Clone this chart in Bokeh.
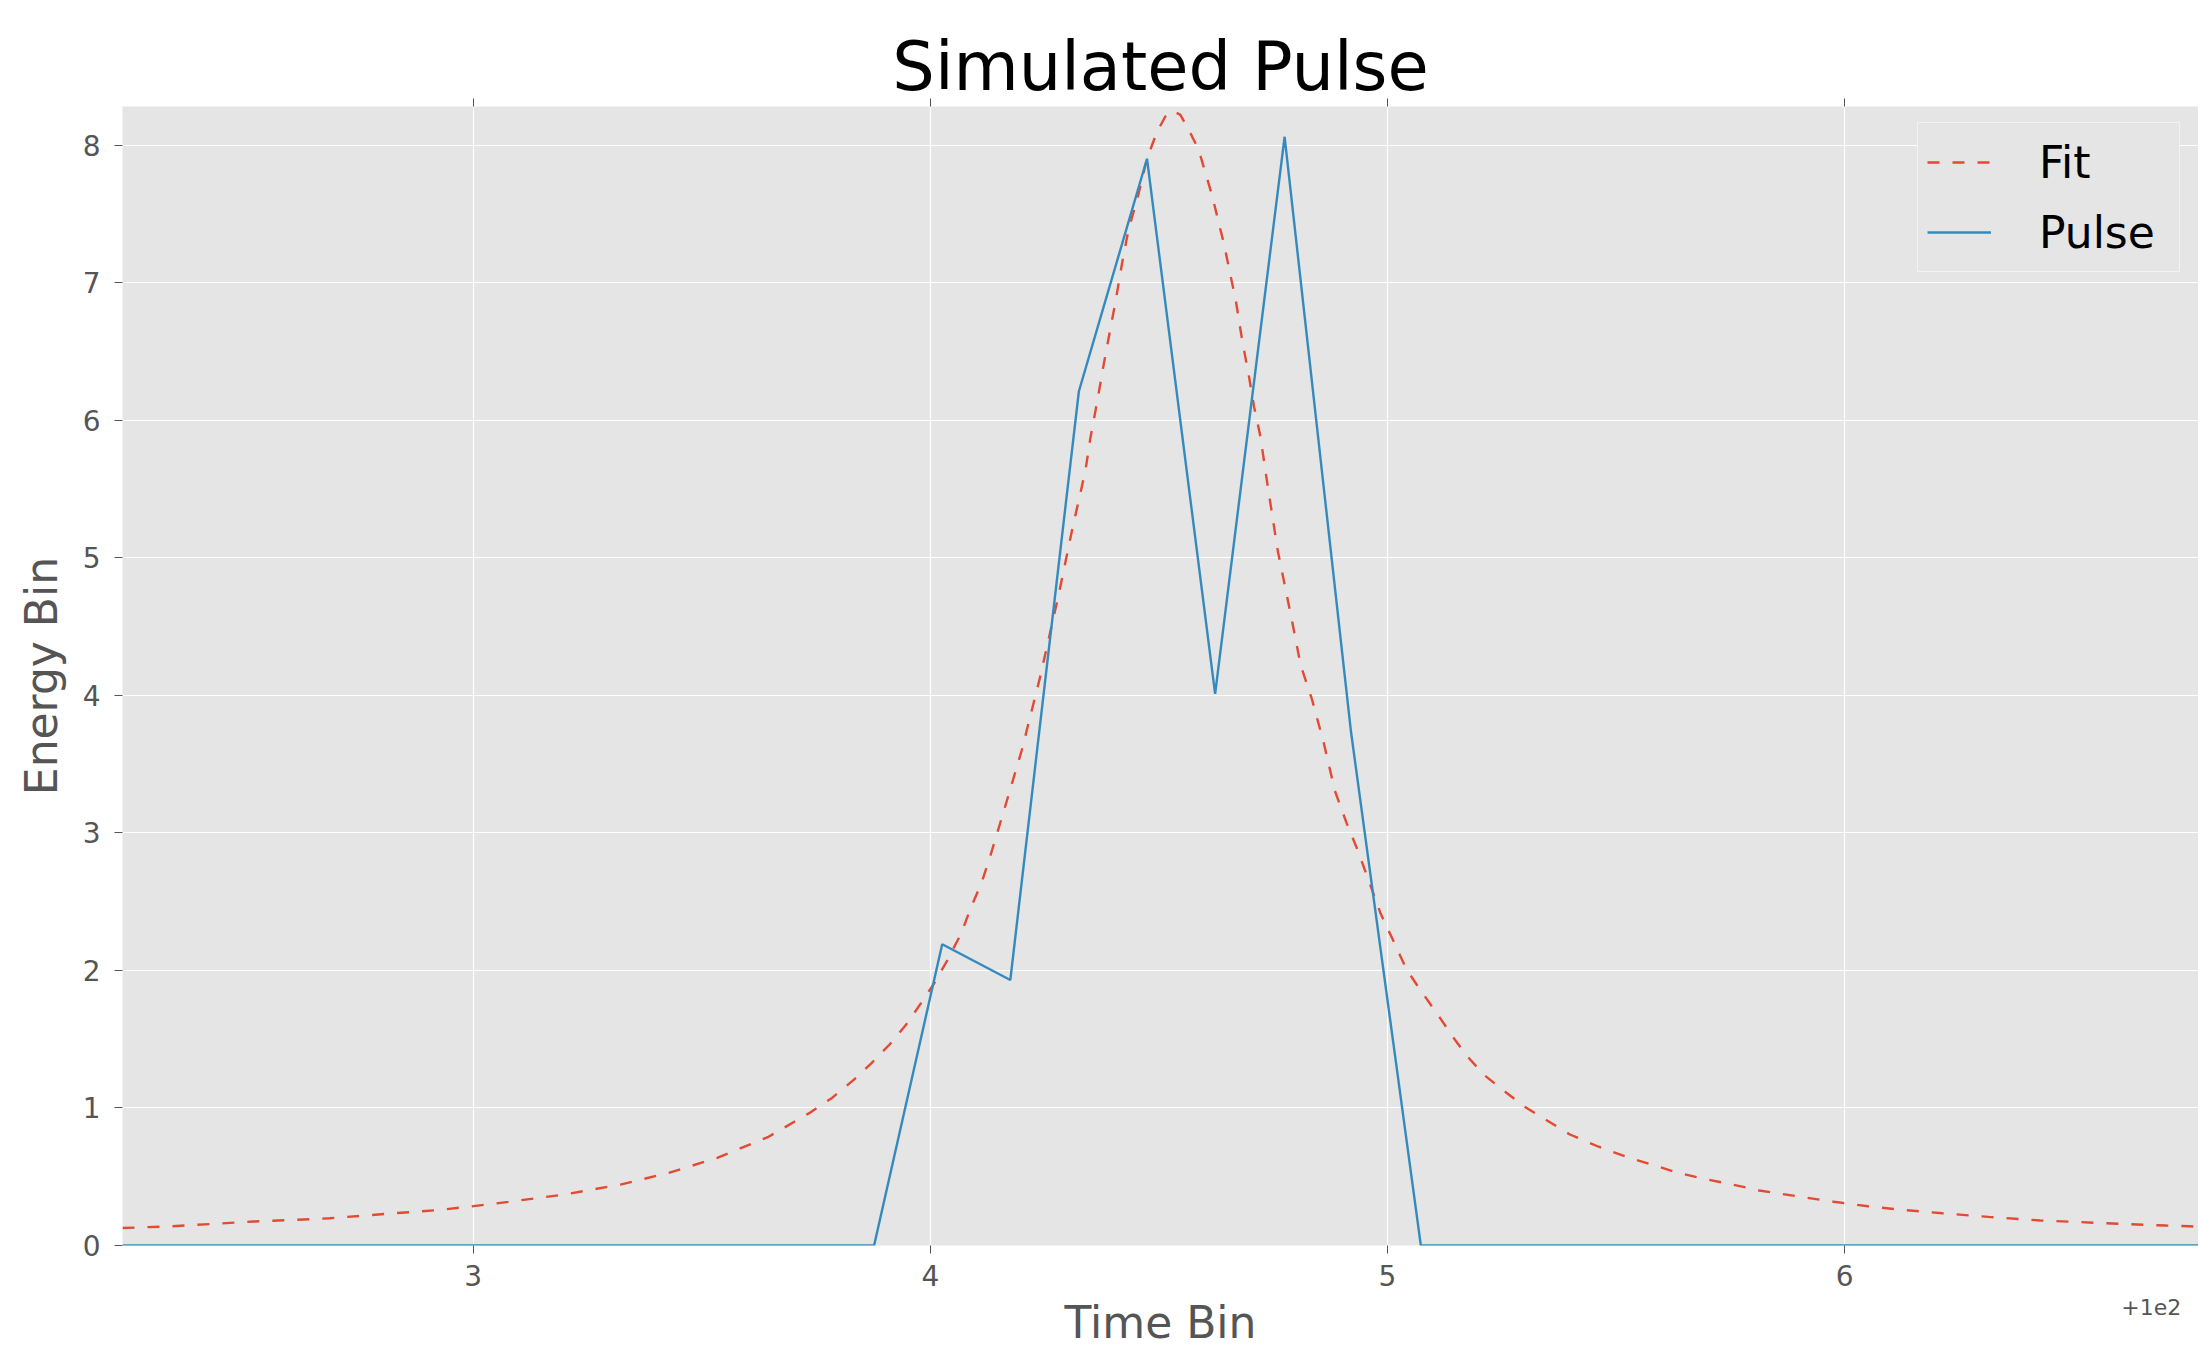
from bokeh.plotting import figure
from bokeh.models import (Range1d, FixedTicker, Legend, LegendItem, LinearAxis,
                          CustomJSTickFormatter)
from bokeh.embed import file_html
from bokeh.resources import INLINE

# ---------------- data ----------------
fit_x = [102.233, 102.340, 102.430, 102.519, 102.608, 102.686, 102.809, 102.921, 102.988,
         103.077, 103.200, 103.322, 103.428, 103.534, 103.646, 103.736, 103.785, 103.833,
         103.872, 103.911, 103.950, 103.980, 104.009, 104.038, 104.068, 104.087, 104.112,
         104.131, 104.160, 104.200, 104.240, 104.280, 104.310, 104.329, 104.340, 104.350,
         104.365, 104.379, 104.394, 104.405, 104.420, 104.434, 104.453, 104.474, 104.496,
         104.514, 104.530, 104.547, 104.569, 104.587, 104.602, 104.617, 104.631, 104.642,
         104.657, 104.668, 104.682, 104.697, 104.708, 104.722, 104.737, 104.760, 104.790,
         104.810, 104.835, 104.860, 104.885, 104.910, 104.935, 104.960, 104.985, 105.010,
         105.042, 105.073, 105.111, 105.142, 105.173, 105.211, 105.249, 105.299, 105.349,
         105.399, 105.462, 105.525, 105.575, 105.637, 105.688, 105.763, 105.813, 105.876,
         105.976, 106.051, 106.127, 106.214, 106.315, 106.428, 106.515, 106.603, 106.703,
         106.753, 106.787]
fit_y = [0.127, 0.140, 0.157, 0.174, 0.186, 0.198, 0.230, 0.257, 0.281,
         0.317, 0.371, 0.443, 0.528, 0.637, 0.790, 0.964, 1.073, 1.206,
         1.328, 1.461, 1.618, 1.764, 1.909, 2.078, 2.272, 2.442, 2.636,
         2.829, 3.150, 3.600, 4.130, 4.720, 5.200, 5.480, 5.649, 5.867,
         6.134, 6.400, 6.667, 6.860, 7.151, 7.393, 7.611, 7.902, 8.096,
         8.207, 8.250, 8.219, 8.086, 7.965, 7.796, 7.626, 7.432, 7.287,
         7.045, 6.875, 6.584, 6.318, 6.100, 5.882, 5.543, 5.050, 4.560,
         4.220, 3.968, 3.662, 3.305, 3.076, 2.872, 2.643, 2.413, 2.235,
         2.005, 1.852, 1.674, 1.521, 1.381, 1.241, 1.139, 1.011, 0.909,
         0.807, 0.718, 0.642, 0.591, 0.527, 0.488, 0.437, 0.400, 0.368,
         0.318, 0.285, 0.259, 0.234, 0.208, 0.182, 0.170, 0.157, 0.145,
         0.140, 0.135]

pulse_x = [102.233, 103.877, 104.026, 104.175, 104.325, 104.474, 104.623,
           104.775, 104.920, 105.073, 106.787]
pulse_y = [0.0, 0.0, 2.19, 1.93, 6.21, 7.90, 4.01, 8.06, 3.74, 0.0, 0.0]

x_tick_values = [103, 104, 105, 106]
x_tick_labels = ["3", "4", "5", "6"]
y_tick_values = [0, 1, 2, 3, 4, 5, 6, 7, 8]

title_text = "Simulated Pulse"
x_label = "Time Bin"
y_label = "Energy Bin"
offset_text = "+1e2"
offset_text_pos = [106.746]
series_names = ["Fit", "Pulse"]

FONT = "DejaVu Sans"
TICK_GRAY = "#555555"

p = figure(width=2198, height=1350, output_backend="svg", toolbar_location=None,
           x_range=Range1d(102.233, 106.774), y_range=Range1d(0, 8.28),
           min_border_left=122, min_border_right=0, min_border_top=106,
           min_border_bottom=104,
           background_fill_color="#E5E5E5", border_fill_color="white")
p.outline_line_color = None

p.title.text = title_text
p.title.align = "center"
p.title.text_font = FONT
p.title.text_font_size = "67px"
p.title.text_font_style = "normal"
p.title.text_color = "black"
p.title.standoff = -14
p.title.offset = 3

xt = FixedTicker(ticks=x_tick_values)
yt = FixedTicker(ticks=y_tick_values)
p.xaxis.ticker = xt
p.yaxis.ticker = yt
p.xgrid.ticker = xt
p.ygrid.ticker = yt
p.xaxis.major_label_overrides = {v: l for v, l in zip(x_tick_values, x_tick_labels)}

for ax in (p.xaxis[0], p.yaxis[0]):
    ax.axis_line_color = None
    ax.major_tick_line_color = TICK_GRAY
    ax.major_tick_in = 0
    ax.major_tick_out = 8
    ax.minor_tick_line_color = None
    ax.major_label_text_font = FONT
    ax.major_label_text_font_size = "28px"
    ax.major_label_text_color = TICK_GRAY
    ax.axis_label_text_font = FONT
    ax.axis_label_text_font_size = "44px"
    ax.axis_label_text_color = TICK_GRAY
    ax.axis_label_text_font_style = "normal"

p.xaxis.axis_label = x_label
p.yaxis.axis_label = y_label
p.xaxis.major_label_standoff = 11
p.xaxis.axis_label_standoff = 8
p.yaxis.major_label_standoff = 14
p.yaxis.axis_label_standoff = 13

top_axis = LinearAxis(ticker=xt, axis_line_color=None, major_tick_out=8, major_tick_in=0,
                      major_tick_line_color=TICK_GRAY, minor_tick_line_color=None,
                      major_label_text_font_size="0px", major_label_text_alpha=0,
                      major_label_standoff=0)
p.add_layout(top_axis, "above")

# offset text ("+1e2") drawn as an extra, tick-less bottom axis
offset_axis = LinearAxis(ticker=FixedTicker(ticks=offset_text_pos), axis_line_color=None,
                         major_tick_out=0, major_tick_in=0, major_tick_line_color=None,
                         minor_tick_line_color=None, major_label_standoff=-52,
                         major_label_text_font=FONT, major_label_text_font_size="22px",
                         major_label_text_color=TICK_GRAY,
                         formatter=CustomJSTickFormatter(args=dict(t=offset_text),
                                                         code="return t"))
p.add_layout(offset_axis, "below")

for g in (p.xgrid[0], p.ygrid[0]):
    g.grid_line_color = "white"
    g.grid_line_width = 1.2

r_fit = p.line(fit_x, fit_y, line_color="#E24A33", line_width=2.4, line_dash="12 13")
r_pulse = p.line(pulse_x, pulse_y, line_color="#348ABD", line_width=2.4)

legend = Legend(items=[LegendItem(label=series_names[0], renderers=[r_fit]),
                       LegendItem(label=series_names[1], renderers=[r_pulse])],
                location=(1795, 973), orientation="vertical", padding=9, spacing=10,
                glyph_width=64, glyph_height=60, label_height=60, label_standoff=48,
                label_width=131,
                label_text_font=FONT, label_text_font_size="44px", label_text_color="black",
                background_fill_color="#E5E5E5", background_fill_alpha=1.0,
                border_line_color="white", border_line_width=1, margin=0)
p.add_layout(legend)

open("out.html", "w").write(file_html(p, INLINE))
